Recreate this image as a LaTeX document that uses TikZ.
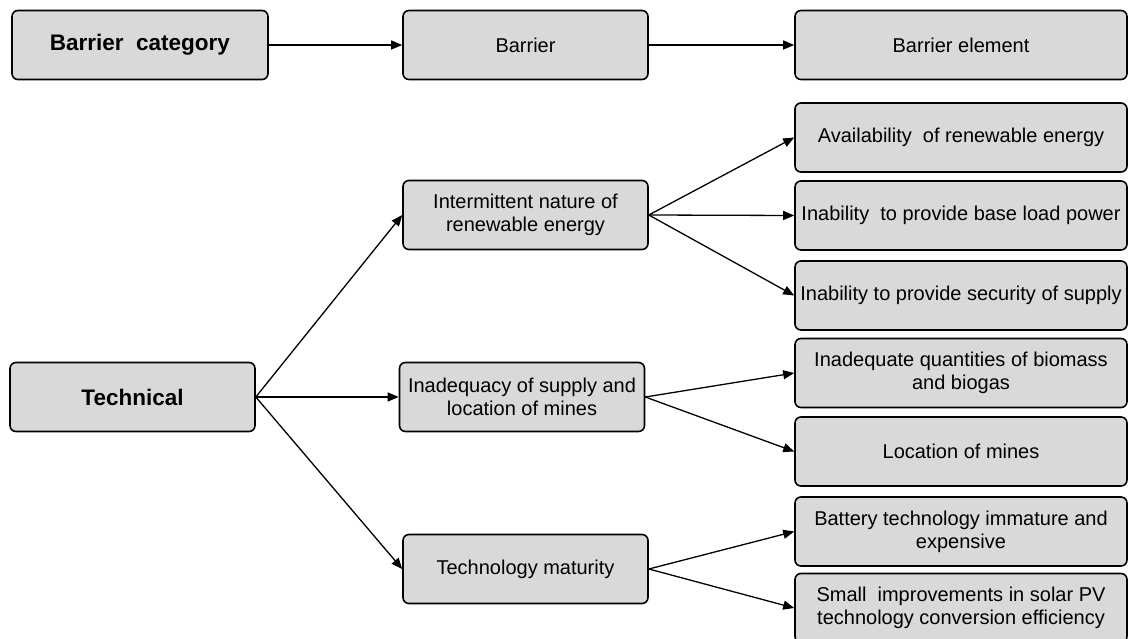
\documentclass[tikz,border=0pt]{standalone}
\usepackage{fontspec}
\setmainfont{Liberation Sans}
\usetikzlibrary{arrows.meta}
\definecolor{boxgray}{RGB}{217,217,217}
\tikzset{
  box/.style={draw,line width=1.6pt,fill=boxgray,rounded corners=6pt,
    minimum height=69pt,align=center,inner xsep=0pt,inner ysep=2pt,
    font=\fontsize{20}{23}\selectfont},
  catbox/.style={box,minimum width=250pt,font=\fontsize{22.5}{26}\selectfont\bfseries},
  midbox/.style={box,minimum width=245pt},
  leafbox/.style={box,minimum width=332pt},
  link/.style={line width=1.3pt,-{Triangle[length=11pt,width=9pt]}}
}
\begin{document}
\begin{tikzpicture}[x=1pt,y=-1pt]
        \useasboundingbox (0,0) rectangle (1131,639);
        %% Header row
        \node[catbox,minimum width=256pt] (cat) at (140,45) {Barrier\ \ category};
        \node[midbox] (bar) at (525.5,45) {Barrier};
        \node[leafbox] (elem) at (961,45) {Barrier element};
        \draw[link] (cat) -- (bar);
        \draw[link] (bar) -- (elem);
        %% Category
        \node[catbox,minimum width=245pt] (tech) at (132.5,397) {Technical};
        %% Barriers
        \node[midbox] (inter) at (525.5,215) {Intermittent nature of\\renewable energy};
        \node[midbox] (supply) at (522,397) {Inadequacy of supply and\\location of mines};
        \node[midbox] (matur) at (525.5,569) {Technology maturity};
        %% Barrier elements
        \node[leafbox] (avail) at (961,137.5) {Availability\ \ of renewable energy};
        \node[leafbox] (base) at (961,215.5) {Inability\ \ to provide base load power};
        \node[leafbox] (secur) at (961,295.5) {Inability to provide security of supply};
        \node[leafbox] (bio) at (961,373) {Inadequate quantities of biomass\\and biogas};
        \node[leafbox] (mines) at (961,451.5) {Location of mines};
        \node[leafbox] (batt) at (961,531.5) {Battery technology immature and\\expensive};
        \node[leafbox] (solar) at (961,608) {Small\ \ improvements in solar PV\\technology conversion efficiency};
        %% Links
        \draw[link] (tech.east) -- (inter.west);
        \draw[link] (tech.east) -- (supply.west);
        \draw[link] (tech.east) -- (matur.west);
        \draw[link] (inter.east) -- (avail.west);
        \draw[link] (inter.east) -- (base.west);
        \draw[link] (inter.east) -- (secur.west);
        \draw[link] (supply.east) -- (bio.west);
        \draw[link] (supply.east) -- (mines.west);
        \draw[link] (matur.east) -- (batt.west);
        \draw[link] (matur.east) -- (solar.west);
\end{tikzpicture}
\end{document}
